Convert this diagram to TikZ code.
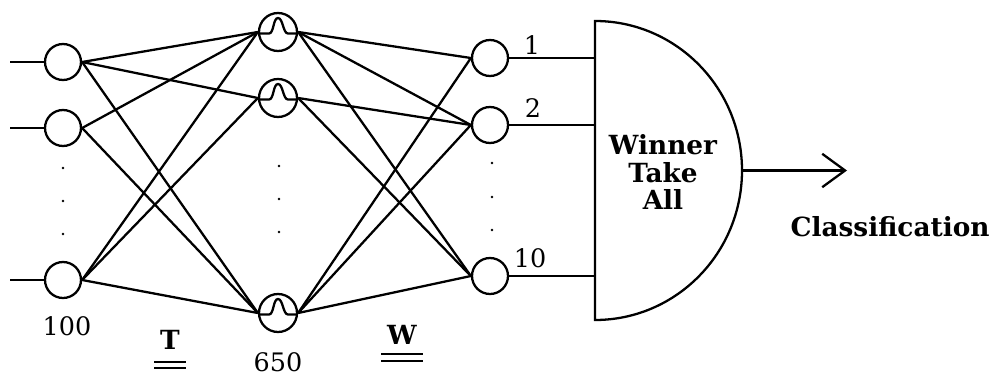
\documentclass[tikz,border=0pt]{standalone}
\usepackage{fontspec}
\setmainfont{DejaVu Serif}
\usetikzlibrary{arrows.meta}
\tikzset{
  unit/.style={draw, circle, inner sep=0pt, minimum size=0.72cm},
  hidunit/.style={draw, circle, inner sep=0pt, minimum size=0.76cm},
  num/.style={font=\fontsize{14.5}{16}\selectfont},
  word/.style={font=\bfseries\fontsize{15}{15.6}\selectfont, align=center},
}
\begin{document}
\begin{tikzpicture}[x=0.02cm,y=-0.02cm,line width=1.3pt]
\useasboundingbox (0,0) rectangle (996,375);
% input layer
\node[unit] (in1) at (63,62) {};
\node[unit] (in2) at (63,128) {};
\node[unit] (in3) at (63,280) {};
\coordinate (x1) at (10,62);
\coordinate (x2) at (10,128);
\coordinate (x3) at (10,280);
\foreach \i in {1,2,3} \draw (x\i) -- (in\i);
\foreach \y in {168,201,234} \fill (63,\y) circle (1.3);
\node[num] (nin) at (67,326) {100};
% hidden layer
\node[hidunit] (h1) at (278,32) {};
\node[hidunit] (h2) at (278,98) {};
\node[hidunit] (h3) at (278,313) {};
\foreach \h in {h1,h2,h3}
  \draw[shift={(\h.center)}] (-19,1.5) -- (-9,1.5) .. controls (-4,1.5) and (-5,-14) .. (0,-14) .. controls (5,-14) and (5,1.5) .. (10,1.5) -- (19,1.5);
\foreach \y in {166,199,232} \fill (279,\y) circle (1.3);
\node[num] (nhid) at (278,362) {650};
% output layer
\node[unit] (o1) at (490,58) {};
\node[unit] (o2) at (490,125) {};
\node[unit] (o3) at (490,276) {};
\foreach \y in {163,197,230} \fill (492,\y) circle (1.3);
\node[num] (l1) at (532,45) {1};
\node[num] (l2) at (533,108) {2};
\node[num] (l3) at (530,258) {10};
% weights
\foreach \a/\b in {in1/h1,in1/h2,in1/h3,in2/h1,in2/h3,in3/h1,in3/h2,in3/h3}
  \draw (\a.east) -- (\b.west);
\foreach \a/\b in {h1/o1,h1/o2,h1/o3,h2/o2,h2/o3,h3/o1,h3/o2,h3/o3}
  \draw (\a.east) -- (\b.west);
\node[word, inner sep=0pt] (wT) at (170,340) {T};
\node[word, inner sep=0pt] (wW) at (402,335) {W};
\foreach \w/\a/\b in {wT/22/28,wW/19/26} {
  \draw[line width=1.1pt] ([shift={(-5,\a)}]\w.west) -- ([shift={(5,\a)}]\w.east);
  \draw[line width=1.1pt] ([shift={(-5,\b)}]\w.west) -- ([shift={(5,\b)}]\w.east);
}
% winner take all
\coordinate (gl) at (595,170.5);
\coordinate (gr) at (742,170.5);
\draw (595,21) arc[start angle=-90, end angle=90, x radius=147, y radius=149.5] -- cycle;
\foreach \i in {1,2,3} \draw (o\i.east) -- (o\i.east -| gl);
\node[word] (wta) at (663,172) {Winner\\Take\\All};
\coordinate (out) at (847,170.5);
\draw[-{Straight Barb[length=13pt,width=19pt]}] (gr) -- (out);
\node[word] (cls) at (890,227) {Classification};
\end{tikzpicture}
\end{document}
